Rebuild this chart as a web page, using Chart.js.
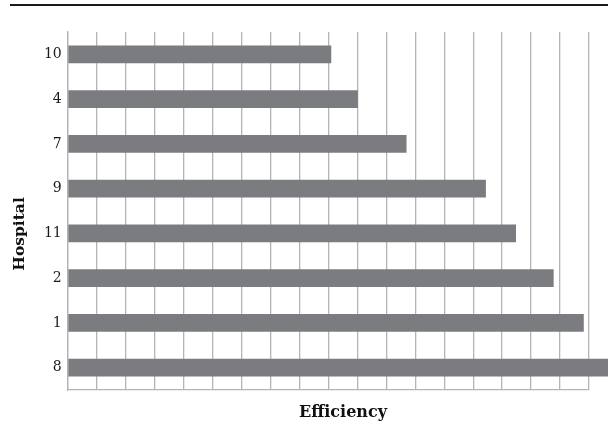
<!DOCTYPE html>
<html>
<head>
<meta charset="utf-8">
<script src="https://cdn.jsdelivr.net/npm/chart.js@4"></script>
<style>
  html, body { margin: 0; padding: 0; background: #fff; }
  #wrap { position: relative; width: 608px; height: 425px; }
</style>
</head>
<body>
<div id="wrap"><canvas id="effChart"></canvas></div>
<script>
// Data
const hospitals = ['10', '4', '7', '9', '11', '2', '1', '8'];
const efficiency = [0.455, 0.501, 0.585, 0.722, 0.774, 0.839, 0.891, 0.95];
const xMin = 0;
const xMax = 0.9;
const xStep = 0.05;

const gridGrey = '#b4b4b6';
const barGrey = '#7b7c80';
const serif = '"DejaVu Serif", "Liberation Serif", serif';

// Top rule and the two axis titles, placed as in the reference
const decorations = {
    id: 'decorations',
    afterDraw(chart) {
        const c = chart.ctx;
        c.save();
        c.strokeStyle = '#1a1a1a';
        c.lineWidth = 2;
        c.beginPath();
        c.moveTo(10, 5);
        c.lineTo(608, 5);
        c.stroke();

        c.fillStyle = '#111';
        c.font = 'bold 16px ' + serif;
        c.textAlign = 'center';
        c.textBaseline = 'middle';
        c.fillText('Efficiency', 343, 413);

        c.font = 'bold 15.5px ' + serif;
        c.translate(20, 234);
        c.rotate(-Math.PI / 2);
        c.fillText('Hospital', 0, 0);
        c.restore();
    }
};

const ctx = document.getElementById('effChart').getContext('2d');

const chart = new Chart(ctx, {
    type: 'bar',
    data: {
        labels: hospitals,
        datasets: [{
            label: 'Efficiency',
            data: efficiency,
            backgroundColor: barGrey,
            borderWidth: 0,
            barPercentage: 0.4,
            categoryPercentage: 1.0,
            clip: false
        }]
    },
    options: {
        indexAxis: 'y',
        responsive: true,
        maintainAspectRatio: false,
        animation: false,
        layout: {
            padding: { top: 32, right: 19, bottom: 35, left: 0 }
        },
        plugins: {
            legend: { display: false },
            tooltip: { enabled: false }
        },
        scales: {
            x: {
                min: xMin,
                max: xMax,
                ticks: { display: false, stepSize: xStep },
                grid: {
                    color: gridGrey,
                    lineWidth: 1.3,
                    drawTicks: false
                },
                border: { display: true, color: gridGrey, width: 1.3 },
                afterFit(scale) { scale.height = 0; }
            },
            y: {
                ticks: {
                    color: '#1a1a1a',
                    font: { family: serif, size: 14 },
                    padding: 6
                },
                grid: { display: false, drawTicks: false },
                border: { display: true, color: gridGrey, width: 1.3 },
                afterFit(scale) { scale.width = 67.7; }
            }
        }
    },
    plugins: [decorations]
});
</script>
</body>
</html>
